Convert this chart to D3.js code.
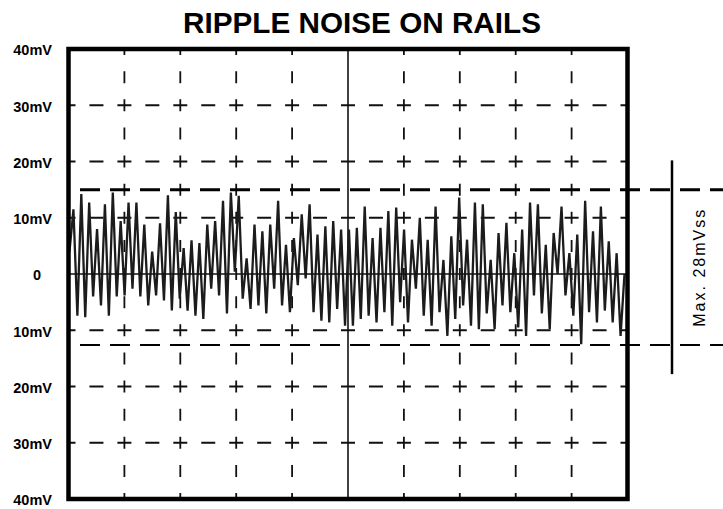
<!DOCTYPE html>
<html>
<head>
<meta charset="utf-8">
<script src="https://cdn.jsdelivr.net/npm/d3@7"></script>
<style>
  html, body { margin: 0; padding: 0; background: #fff; }
  svg { display: block; }
</style>
</head>
<body>
<svg id="chart" width="723" height="509"></svg>
<script>
// ---------------- DATA ----------------
const titleText = "RIPPLE NOISE ON RAILS";
const yTickValues = [40, 30, 20, 10, 0, -10, -20, -30, -40];
const yTickLabels = ["40mV", "30mV", "20mV", "10mV", "0", "10mV", "20mV", "30mV", "40mV"];
const xDivisions = [0, 1, 2, 3, 4, 5, 6, 7, 8, 9, 10];
const gridLevels = [30, 20, 10, -10, -20, -30];
const maxLevel = 15;      // mV, upper envelope marker
const minLevel = -12.6;   // mV, lower envelope marker
const ppLabel = "Max. 28mVss";

// ripple samples (mV), evenly spaced over the 10 divisions
const rippleMv = [
  4, 11.5, -7.4, 14.2, -7.7, 12.7, -4, 8, -5.6, 12.4, -7.4, 14.5, -4, 9.4, -3.8, 12.7,
  -2.6, 12.7, -4, 8.8, -5.6, 4, -3.8, 9, -4.7, 14, -6.5, 11, -4.4, 4.6, -6.5, 6, -7.4, 5.5,
  -8, 8.8, -2.6, 9.4, -3.8, 13, -7, 14.5, 0.4, 13.9, -4.4, 2.8, -6.2, 8.8, -5.6, 7.6, -7,
  8.8, -2.6, 13, -5.6, 5.2, -6.8, 6.4, -2, 10.6, -0.8, 12.4, -6.8, 7, -8.3, 8.5, -8.6, 9.4,
  -6.2, 7.9, -9.2, 7.9, -9.2,
  8.2, -8, 12, -7.4, 6.4, -8.6, 8.2, -6.8, 11.2, -9.2, 11.8, -5, 7.9, -8.6, 6.1, -2.6, 10,
  -7.4, 6.1, -9.2, 12, -6.8, 2.5, -11, 6.7, -8, 13.6, -5.6, 6.1, -9.2, 12.7, -9.8, 12.4, -7,
  2.5, -9.8, 7.3, -5.6, 9.1, -6.8, 3.7, -9.5, 7.9, -11, 12.7, -3.8, 12.4, -7, 5.2, -9.8, 7.3,
  0, 12, -3.8, 3.7, -7.4, 7, -12.5, 13, -6.8, 7.6, -8.6, 12, -6.5, 5.8, -8.6, 3.7, -11, 0
];

// ---------------- LAYOUT ----------------
const svg = d3.select("#chart");
const plot = { left: 68.5, right: 627.5, top: 49, bottom: 499 };

const y = d3.scaleLinear().domain([-40, 40]).range([plot.bottom, plot.top]);
const x = d3.scaleLinear().domain([0, 10]).range([plot.left, plot.right]);
const xs = d3.scaleLinear().domain([0, rippleMv.length - 1]).range([plot.left + 1, plot.right - 3]);

const ink = "#111";

// Title
svg.append("text")
  .attr("x", 362).attr("y", 33)
  .attr("text-anchor", "middle")
  .attr("font-family", "'Liberation Sans Narrow', 'Arial Narrow', 'Liberation Sans', Arial, sans-serif")
  .attr("font-weight", "bold")
  .attr("font-size", 30)
  .attr("textLength", 358)
  .attr("lengthAdjust", "spacingAndGlyphs")
  .attr("fill", "#000")
  .text(titleText);

// Clip
svg.append("clipPath").attr("id", "plotClip")
  .append("rect")
  .attr("x", plot.left).attr("y", plot.top)
  .attr("width", plot.right - plot.left).attr("height", plot.bottom - plot.top);

const g = svg.append("g");

// Horizontal dashed grid
const cellW = (plot.right - plot.left) / 20;
g.selectAll("line.hgrid").data(gridLevels).join("line")
  .attr("class", "hgrid")
  .attr("x1", plot.left).attr("x2", plot.right)
  .attr("y1", d => y(d)).attr("y2", d => y(d))
  .attr("stroke", ink).attr("stroke-width", 1.8)
  .attr("stroke-dasharray", `14,${(cellW - 14).toFixed(2)}`)
  .attr("stroke-dashoffset", 7);

// Vertical dashed grid (center solid)
const cellH = (plot.bottom - plot.top) / 16;
g.selectAll("line.vgrid").data(xDivisions.filter(d => d > 0 && d < 10 && d !== 5)).join("line")
  .attr("class", "vgrid")
  .attr("x1", d => x(d)).attr("x2", d => x(d))
  .attr("y1", plot.top).attr("y2", plot.bottom)
  .attr("stroke", ink).attr("stroke-width", 1.8)
  .attr("stroke-dasharray", `12,${(cellH - 12).toFixed(2)}`)
  .attr("stroke-dashoffset", 6);

g.append("line")
  .attr("x1", x(5)).attr("x2", x(5))
  .attr("y1", plot.top).attr("y2", plot.bottom)
  .attr("stroke", ink).attr("stroke-width", 1.6);

// Ripple waveform
const line = d3.line().x((d, i) => xs(i)).y(d => y(d));
g.append("path")
  .datum(rippleMv)
  .attr("clip-path", "url(#plotClip)")
  .attr("d", line)
  .attr("fill", "none")
  .attr("stroke", "#1c1c1c")
  .attr("stroke-width", 2.3)
  .attr("stroke-linejoin", "miter")
  .attr("stroke-miterlimit", 3);

// Zero line
g.append("line")
  .attr("x1", plot.left).attr("x2", plot.right)
  .attr("y1", y(0)).attr("y2", y(0))
  .attr("stroke", ink).attr("stroke-width", 1.6);

// Envelope markers
g.append("line")
  .attr("x1", 80).attr("x2", 723)
  .attr("y1", y(maxLevel)).attr("y2", y(maxLevel))
  .attr("stroke", "#000").attr("stroke-width", 3)
  .attr("stroke-dasharray", "20,10");
g.append("line")
  .attr("x1", 80).attr("x2", 723)
  .attr("y1", y(minLevel)).attr("y2", y(minLevel))
  .attr("stroke", "#000").attr("stroke-width", 2)
  .attr("stroke-dasharray", "20,10");

// Peak-to-peak bar and label
svg.append("line")
  .attr("x1", 672).attr("x2", 672)
  .attr("y1", y(20.2)).attr("y2", y(-17.8))
  .attr("stroke", "#000").attr("stroke-width", 2.5);
svg.append("text")
  .attr("transform", `translate(699,${(y(maxLevel) + y(minLevel)) / 2}) rotate(-90)`)
  .attr("text-anchor", "middle")
  .attr("dominant-baseline", "central")
  .attr("font-family", "'Liberation Sans', Arial, sans-serif")
  .attr("font-size", 16)
  .attr("letter-spacing", 2)
  .attr("fill", "#000")
  .text(ppLabel);

// Frame
svg.append("rect")
  .attr("x", plot.left).attr("y", plot.top)
  .attr("width", plot.right - plot.left).attr("height", plot.bottom - plot.top)
  .attr("fill", "none").attr("stroke", "#000").attr("stroke-width", 4.5);

// Y axis labels
const yAxis = d3.axisLeft(y)
  .tickValues(yTickValues)
  .tickSize(0)
  .tickPadding(0)
  .tickFormat((d, i) => yTickLabels[i]);
const ag = svg.append("g").attr("transform", "translate(52,0)").call(yAxis);
ag.select(".domain").remove();
ag.selectAll("text")
  .attr("font-family", "'Liberation Sans Narrow', 'Liberation Sans', Arial, sans-serif")
  .attr("font-weight", "bold")
  .attr("font-size", 14.5)
  .attr("fill", "#000")
  .attr("dy", "0.4em")
  .attr("x", (d) => d === 0 ? -11 : 0);
</script>
</body>
</html>
